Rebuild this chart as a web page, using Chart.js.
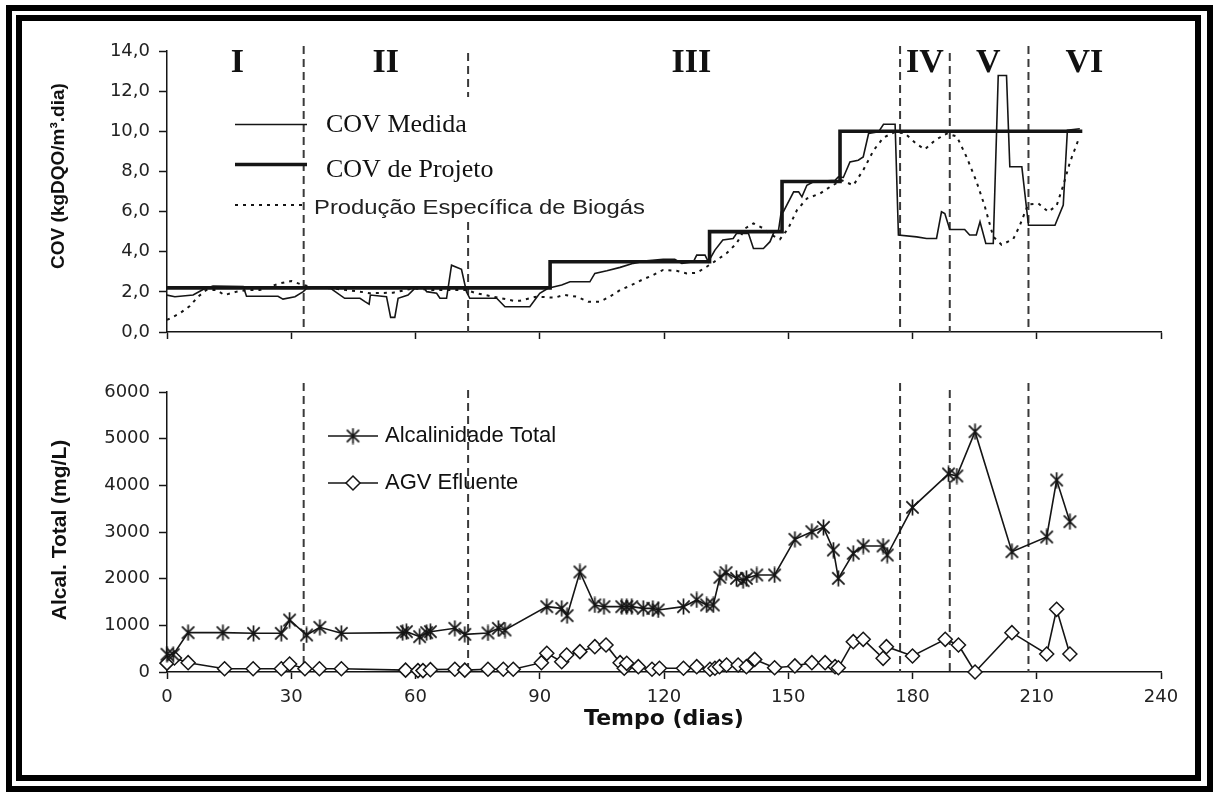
<!DOCTYPE html>
<html lang="pt">
<head>
<meta charset="utf-8">
<title>COV e alcalinidade</title>
<script src="https://cdn.jsdelivr.net/npm/chart.js@4.4.1/dist/chart.umd.min.js"></script>
<style>
  html, body { margin: 0; padding: 0; background: #fff; }
  body { position: relative; width: 1217px; height: 794px; overflow: hidden; }
  .moldura { position: absolute; border: 6px solid #000; }
  #moldura-externa { left: 6px; top: 5px; width: 1195px; height: 775px; }
  #moldura-interna { left: 16px; top: 15px; width: 1173px; height: 754px; }
  canvas { position: absolute; left: 0; }
  #grafico-cov { top: 0; }
  #grafico-alc { top: 360px; }
</style>
</head>
<body>
<div class="moldura" id="moldura-externa"></div>
<div class="moldura" id="moldura-interna"></div>
<canvas id="grafico-cov" width="1217" height="360"></canvas>
<canvas id="grafico-alc" width="1217" height="400"></canvas>
<script>
// eixo x comum (tempo em dias)
const diasTicks = [0, 30, 60, 90, 120, 150, 180, 210, 240];
const covTicks = [0, 2, 4, 6, 8, 10, 12, 14];
const alcTicks = [0, 1000, 2000, 3000, 4000, 5000, 6000];

// fases da operacao
const fasesDias = [33, 72.7, 177, 189, 208];
const fasesRotulos = ['I', 'II', 'III', 'IV', 'V', 'VI'];
const fasesRotulosDias = [17, 52.8, 126.6, 183, 198.3, 221.5];

// [dia, kgDQO/m3.dia]
const covMedida = [
    [0, 1.84], [1.9, 1.76], [6.3, 1.84], [8.7, 2.12], [11.1, 2.29], [18.4, 2.27], [19.2, 1.78], [26.8, 1.78],
    [28, 1.64], [30.9, 1.76], [32.9, 2.01], [33.7, 2.17], [39.3, 2.22], [40.1, 2.09], [42.9, 1.68], [46.6, 1.68],
    [47.8, 1.51], [48.8, 1.39], [49.1, 1.84], [53, 1.76], [54, 0.73], [55, 0.73], [55.8, 1.68], [58.2, 1.84],
    [60.2, 2.25], [61.9, 2.25], [62.7, 2.01], [65.1, 1.93], [65.9, 1.68], [67.5, 1.68], [68.7, 3.33], [71.1, 3.12],
    [72.3, 2.01], [73.1, 1.68], [79.6, 1.68], [81.6, 1.26], [87.6, 1.26], [90, 1.93], [92, 2.18], [95.3, 2.34],
    [97.3, 2.5], [102.1, 2.5], [103.3, 2.92], [106.2, 3.05], [109.4, 3.22], [112.6, 3.42], [115.8, 3.55], [119.8, 3.62],
    [122.6, 3.62], [124.3, 3.42], [127.1, 3.5], [127.9, 3.83], [129.9, 3.83], [130.7, 3.5], [132.3, 4.08], [134.2, 4.58],
    [136.7, 4.66], [137.5, 4.91], [140.4, 4.91], [141.6, 4.16], [144, 4.16], [145.6, 4.5], [146.6, 5.0], [147.6, 5.0],
    [148.3, 5.98], [148.8, 5.98], [151.3, 6.98], [152.5, 6.98], [153.3, 6.73], [154.5, 7.31], [156.1, 7.48], [161.3, 7.56],
    [162.1, 7.73], [163.3, 7.7], [164.9, 8.47], [166.9, 8.56], [168.1, 8.72], [169.4, 9.89], [171.8, 9.97], [173, 10.35],
    [175.8, 10.35], [176.6, 4.83], [181, 4.74], [183.4, 4.66], [185.8, 4.66], [187, 5.99], [187.8, 5.9], [189, 5.11],
    [192.6, 5.11], [193.8, 4.83], [195.4, 4.83], [196.3, 5.49], [197.7, 4.41], [199.5, 4.41], [200.7, 12.78], [202.7, 12.78],
    [203.5, 8.23], [206.4, 8.23], [208, 5.32], [214.4, 5.32], [216.4, 6.32], [217.4, 10.05], [220.4, 10.13]
];
const covProjeto = [[0, 2.2], [92.5, 3.5], [131, 5.0], [148.5, 7.5], [162.5, 10.0], [221, 10.0]];
const producaoBiogas = [
    [0, 0.6], [3.1, 0.93], [5.5, 1.29], [7.5, 1.76], [9.5, 2.09], [11.9, 2.09], [13.9, 1.84], [16.8, 2.01],
    [19.2, 2.09], [22.4, 2.09], [27.2, 2.42], [30, 2.54], [32.9, 2.34], [35.3, 2.22], [40.1, 2.17], [43.3, 2.09],
    [46.6, 2.01], [49, 1.93], [54.6, 1.96], [59.4, 2.17], [64.3, 2.09], [69.1, 2.09], [72.3, 2.09], [74.7, 1.93],
    [78.8, 1.76], [83.6, 1.56], [85.2, 1.56], [89.2, 1.76], [93.6, 1.71], [96, 1.85], [98.9, 1.76], [101.7, 1.51],
    [104.5, 1.51], [106.9, 1.76], [109.4, 2.09], [112.2, 2.34], [114.6, 2.59], [117.4, 2.84], [119.8, 3.09], [123, 3.05],
    [125.5, 2.92], [127.9, 2.95], [130.3, 3.25], [132.7, 3.58], [135.1, 3.92], [137.5, 4.41], [139.6, 5.16], [141.6, 5.41],
    [144, 5.16], [146, 4.83], [148, 4.62], [150, 5.16], [152.1, 6.07], [154.5, 6.65], [157.7, 6.9], [160.1, 7.23],
    [162.9, 7.56], [165.7, 7.31], [168.1, 8.06], [170.6, 9.05], [173, 9.69], [175.8, 9.97], [178.2, 9.89], [181, 9.36],
    [183, 9.1], [185.5, 9.56], [188.3, 9.89], [190.7, 9.74], [193.1, 8.7], [195.4, 7.52], [197.4, 6.3], [199.5, 4.75],
    [201.5, 4.35], [204.3, 4.62], [205.9, 5.3], [207.9, 6.36], [210.4, 6.4], [212.8, 5.99], [214.8, 6.3], [216.4, 7.3],
    [218, 8.45], [220, 9.55]
];

// [dia, mg/L]
const alcalinidadeTotal = [
    [0, 380], [1.5, 370], [5.1, 843], [13.5, 843], [20.9, 829], [27.6, 829], [29.6, 1114], [33.7, 793],
    [36.9, 957], [42.1, 829], [56.9, 843], [57.8, 864], [61, 757], [62.7, 843], [63.6, 864], [69.5, 936],
    [71.9, 807], [77.5, 836], [80, 936], [81.6, 900], [91.7, 1400], [95.3, 1364], [96.6, 1207], [99.7, 2143],
    [103.3, 1436], [105.5, 1400], [109.8, 1400], [111, 1400], [112.2, 1400], [115, 1364], [117.3, 1364], [118.6, 1329],
    [124.7, 1400], [127.9, 1543], [130.3, 1436], [131.9, 1436], [133.5, 2029], [135, 2129], [137.5, 2007], [139.1, 1957],
    [139.9, 2007], [142.4, 2079], [146.7, 2079], [151.6, 2843], [155.7, 3007], [158.5, 3100], [160.9, 2614], [162.1, 2007],
    [165.7, 2543], [168.1, 2700], [172.9, 2700], [173.9, 2507], [180, 3529], [188.7, 4243], [190.7, 4200], [195.1, 5150],
    [204, 2579], [212.4, 2893], [214.8, 4114], [218, 3221]
];
const agvEfluente = [
    [0, 190], [1.8, 300], [5.1, 200], [13.9, 70], [20.8, 70], [27.6, 70], [29.6, 170], [33.3, 70],
    [36.8, 70], [42.1, 70], [57.6, 40], [60.6, 30], [61.8, 30], [63.6, 50], [69.5, 60], [71.9, 40],
    [77.5, 60], [81.2, 60], [83.6, 60], [90.4, 200], [91.7, 400], [95.3, 220], [96.5, 364], [99.7, 436],
    [103.3, 543], [106, 579], [109.4, 200], [110.4, 80], [111, 186], [113.8, 114], [117.1, 60], [118.9, 80],
    [124.7, 80], [127.9, 114], [131.1, 60], [132.3, 80], [133.4, 114], [135.1, 150], [137.9, 150], [139.9, 114],
    [141.9, 270], [146.7, 90], [151.6, 130], [155.7, 200], [158.9, 200], [161.3, 114], [162.1, 90], [165.7, 650],
    [168.1, 700], [172.9, 293], [173.7, 543], [180, 343], [187.9, 700], [191.1, 579], [195.1, 0], [204, 843],
    [212.4, 386], [214.8, 1343], [218, 386]
];

const pontos = serie => serie.map(p => ({x: p[0], y: p[1]}));
const PRETO = '#151515';

Chart.defaults.font.family = "'Liberation Sans', Arial, sans-serif";
Chart.defaults.color = '#222';

function criarAsterisco(tam) {
    const c = document.createElement('canvas');
    c.width = tam;
    c.height = tam;
    const g = c.getContext('2d');
    const m = tam / 2, r = tam / 2 - 1;
    g.strokeStyle = PRETO;
    g.lineWidth = 1.7;
    g.beginPath();
    g.moveTo(m - r * 0.82, m - r * 0.82); g.lineTo(m + r * 0.82, m + r * 0.82);
    g.moveTo(m + r * 0.82, m - r * 0.82); g.lineTo(m - r * 0.82, m + r * 0.82);
    g.moveTo(m, 0.5); g.lineTo(m, tam - 0.5);
    g.stroke();
    return c;
}
const asterisco = criarAsterisco(17);

function desenharLosango(ctx, x, y, r) {
    ctx.beginPath();
    ctx.moveTo(x, y - r);
    ctx.lineTo(x + r, y);
    ctx.lineTo(x, y + r);
    ctx.lineTo(x - r, y);
    ctx.closePath();
    ctx.fillStyle = '#fff';
    ctx.fill();
    ctx.stroke();
}

// linhas tracejadas das fases + numerais romanos
const fasesPlugin = {
    id: 'fases',
    beforeDatasetsDraw(chart, args, opts) {
        const {ctx, chartArea, scales: {x}} = chart;
        ctx.save();
        ctx.strokeStyle = '#3a3a3a';
        ctx.lineWidth = 2;
        ctx.setLineDash([8, 5]);
        fasesDias.forEach((dia, i) => {
            const px = x.getPixelForValue(dia);
            ctx.beginPath();
            ctx.moveTo(px, chartArea.top + opts.inicio[i % 2]);
            ctx.lineTo(px, chartArea.bottom);
            ctx.stroke();
        });
        ctx.setLineDash([]);
        if (opts.rotulos) {
            ctx.fillStyle = '#111';
            ctx.font = "bold 34px 'Liberation Serif'";
            ctx.textAlign = 'center';
            ctx.textBaseline = 'alphabetic';
            fasesRotulos.forEach((txt, i) => {
                ctx.fillText(txt, x.getPixelForValue(fasesRotulosDias[i]), chartArea.top + 21);
            });
        }
        ctx.restore();
    }
};

// titulo vertical do eixo y
const tituloYPlugin = {
    id: 'tituloY',
    afterDraw(chart, args, opts) {
        const ctx = chart.ctx;
        ctx.save();
        ctx.translate(opts.x, opts.y);
        ctx.rotate(-Math.PI / 2);
        ctx.font = `bold ${opts.tamanho}px 'Liberation Sans'`;
        ctx.fillStyle = '#111';
        ctx.textAlign = 'center';
        ctx.textBaseline = 'middle';
        ctx.fillText(opts.texto, 0, 0);
        ctx.restore();
    }
};

const legendaCovPlugin = {
    id: 'legendaCov',
    afterDraw(chart) {
        const ctx = chart.ctx;
        const ds = chart.data.datasets;
        ctx.save();
        ctx.fillStyle = '#fff';
        ctx.fillRect(312, 97, 190, 124);
        const ys = [124.5, 164.5, 205];
        const fins = [307, 307, 303];
        ds.forEach((d, i) => {
            ctx.strokeStyle = PRETO;
            ctx.lineWidth = d.borderWidth;
            ctx.setLineDash(d.borderDash || []);
            ctx.beginPath();
            ctx.moveTo(235, ys[i]);
            ctx.lineTo(fins[i], ys[i]);
            ctx.stroke();
        });
        ctx.setLineDash([]);
        ctx.fillStyle = '#111';
        ctx.textAlign = 'left';
        ctx.textBaseline = 'alphabetic';
        ctx.font = "26px 'Liberation Serif'";
        ctx.fillText(ds[0].label, 326, 132);
        ctx.fillText(ds[1].label, 326, 177);
        ctx.font = "20px 'Liberation Sans'";
        const w = ctx.measureText(ds[2].label).width;
        ctx.translate(314, 214);
        ctx.scale(331 / w, 1);
        ctx.fillStyle = '#222';
        ctx.fillText(ds[2].label, 0, 0);
        ctx.restore();
    }
};

const legendaAlcPlugin = {
    id: 'legendaAlc',
    afterDraw(chart) {
        const ctx = chart.ctx;
        const ds = chart.data.datasets;
        ctx.save();
        ctx.strokeStyle = PRETO;
        ctx.lineWidth = 1.6;
        [76, 123].forEach(y => {
            ctx.beginPath();
            ctx.moveTo(328, y);
            ctx.lineTo(378, y);
            ctx.stroke();
        });
        ctx.drawImage(asterisco, 353 - asterisco.width / 2, 76 - asterisco.height / 2);
        ctx.lineWidth = 1.5;
        desenharLosango(ctx, 353, 123, 7);
        ctx.fillStyle = '#111';
        ctx.font = "22px 'Liberation Sans'";
        ctx.textAlign = 'left';
        ctx.textBaseline = 'middle';
        ctx.fillText(ds[0].label, 385, 76);
        ctx.fillText(ds[1].label, 385, 123);
        ctx.restore();
    }
};

function eixoX(mostrarRotulos) {
    return {
        type: 'linear',
        min: 0,
        max: 240,
        afterBuildTicks: s => { s.ticks = diasTicks.map(v => ({value: v})); },
        afterFit: s => { s.height = mostrarRotulos ? 88 : 28; },
        ticks: {
            display: mostrarRotulos,
            font: {family: 'DejaVu Sans', size: 18},
            color: '#222',
            padding: 8,
            maxRotation: 0
        },
        grid: {drawOnChartArea: false, tickLength: 7, tickColor: PRETO, tickWidth: 1.5},
        border: {color: PRETO, width: 1.5},
        title: {
            display: mostrarRotulos,
            text: 'Tempo (dias)',
            color: '#111',
            font: {family: 'DejaVu Sans', size: 22, weight: 'bold'},
            padding: {top: 0, bottom: 28}
        }
    };
}

function eixoY(valores, formato) {
    return {
        min: valores[0],
        max: valores[valores.length - 1],
        afterBuildTicks: s => { s.ticks = valores.map(v => ({value: v})); },
        afterFit: s => { s.width = 167; },
        ticks: {
            font: {family: 'DejaVu Sans', size: 18},
            color: '#222',
            padding: 9,
            callback: formato
        },
        grid: {drawOnChartArea: false, tickLength: 8, tickColor: PRETO, tickWidth: 1.5},
        border: {color: PRETO, width: 1.5}
    };
}

new Chart(document.getElementById('grafico-cov'), {
    type: 'line',
    data: {
        datasets: [
            {label: 'COV Medida', data: pontos(covMedida), borderColor: PRETO, borderWidth: 1.6, pointRadius: 0, tension: 0},
            {label: 'COV de Projeto', data: pontos(covProjeto), stepped: true, borderColor: PRETO, borderWidth: 3.6, pointRadius: 0},
            {label: 'Produção Específica de Biogás', data: pontos(producaoBiogas), borderColor: PRETO, borderWidth: 2,
             borderDash: [3, 5], pointRadius: 0, tension: 0}
        ]
    },
    options: {
        responsive: false,
        animation: false,
        devicePixelRatio: 1,
        layout: {padding: {top: 51, right: 56, left: 0, bottom: 0}},
        plugins: {
            legend: {display: false},
            tooltip: {enabled: false},
            fases: {inicio: [-5, 2], rotulos: true},
            tituloY: {texto: 'COV (kgDQO/m³.dia)', x: 59, y: 176, tamanho: 19}
        },
        scales: {
            x: eixoX(false),
            y: eixoY(covTicks, v => v.toFixed(1).replace('.', ','))
        }
    },
    plugins: [fasesPlugin, tituloYPlugin, legendaCovPlugin]
});

new Chart(document.getElementById('grafico-alc'), {
    type: 'line',
    data: {
        datasets: [
            {label: 'Alcalinidade Total', data: pontos(alcalinidadeTotal), borderColor: PRETO, borderWidth: 1.6,
             pointStyle: asterisco, pointRadius: 8, tension: 0},
            {label: 'AGV Efluente', data: pontos(agvEfluente), borderColor: PRETO, borderWidth: 1.6,
             pointStyle: 'rectRot', pointRadius: 7, pointBorderWidth: 1.5, pointBackgroundColor: '#fff',
             pointBorderColor: PRETO, tension: 0}
        ]
    },
    options: {
        responsive: false,
        animation: false,
        devicePixelRatio: 1,
        clip: false,
        layout: {padding: {top: 32, right: 56, left: 0, bottom: 0}},
        plugins: {
            legend: {display: false},
            tooltip: {enabled: false},
            fases: {inicio: [-9, -2], rotulos: false},
            tituloY: {texto: 'Alcal. Total (mg/L)', x: 60, y: 170, tamanho: 21}
        },
        scales: {
            x: eixoX(true),
            y: eixoY(alcTicks, v => String(v))
        }
    },
    plugins: [fasesPlugin, tituloYPlugin, legendaAlcPlugin]
});
</script>
</body>
</html>
